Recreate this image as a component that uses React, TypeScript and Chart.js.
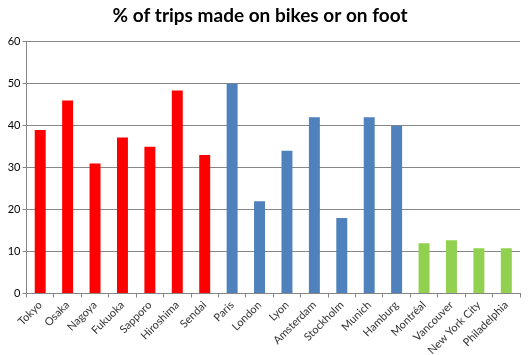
import React, { useEffect, useRef } from "react";
import { Chart, registerables } from "chart.js";

Chart.register(...registerables);

const cities = [
  "Tokyo", "Osaka", "Nagoya", "Fukuoka", "Sapporo", "Hiroshima", "Sendai",
  "Paris", "London", "Lyon", "Amsterdam", "Stockholm", "Munich", "Hamburg",
  "Montréal", "Vancouver", "New York City", "Philadelphia",
];
const shares = [39, 46, 31, 37.2, 35, 48.4, 33, 50, 22, 34, 42, 18, 42, 40, 12, 12.7, 10.8, 10.8];
const regions = ["jp", "jp", "jp", "jp", "jp", "jp", "jp", "eu", "eu", "eu", "eu", "eu", "eu", "eu", "na", "na", "na", "na"];
const regionColors: Record<string, string> = { jp: "#FF0000", eu: "#4F81BD", na: "#92D050" };
const yTicks = [0, 10, 20, 30, 40, 50, 60];

export default function App() {
  const ref = useRef<HTMLCanvasElement | null>(null);
  useEffect(() => {
    if (!ref.current) return;
    const chart = new Chart(ref.current, {
      type: "bar",
      data: {
        labels: cities,
        datasets: [
          {
            data: shares,
            backgroundColor: regions.map((r) => regionColors[r]),
            barPercentage: 0.4,
            categoryPercentage: 1,
          },
        ],
      },
      options: {
        animation: false,
        responsive: false,
        maintainAspectRatio: false,
        layout: { padding: { left: 0, right: 8, top: 0, bottom: 0 } },
        plugins: {
          legend: { display: false },
          tooltip: { enabled: false },
          title: {
            display: true,
            text: "% of trips made on bikes or on foot",
            font: { family: "Lato", size: 19, weight: "bold" },
            color: "#000",
            padding: { top: 4, bottom: 15 },
          },
        },
        scales: {
          x: {
            offset: true,
            grid: { display: true, drawOnChartArea: false, drawTicks: true, tickLength: 4, offset: true, color: "#868686" },
            border: { color: "#868686" },
            ticks: {
              minRotation: 45,
              maxRotation: 45,
              autoSkip: false,
              padding: 1,
              color: "#333",
              font: { family: "Lato", size: 11 },
            },
            afterFit: (s: any) => { s.height = 61.5; },
          },
          y: {
            min: 0,
            max: 60,
            afterBuildTicks: (s: any) => { s.ticks = yTicks.map((v) => ({ value: v })); },
            grid: { color: "#868686", tickLength: 4 },
            border: { color: "#868686" },
            ticks: { color: "#000", padding: 2, font: { family: "Lato", size: 11 } },
            afterFit: (s: any) => { s.width = 26.5; },
          },
        },
      },
    });
    return () => chart.destroy();
  }, []);
  return (
    <div style={{ position: "fixed", left: 0, top: 0, width: 528, height: 355, background: "#fff" }}>
      <canvas ref={ref} width={528} height={355} style={{ display: "block" }} />
    </div>
  );
}
